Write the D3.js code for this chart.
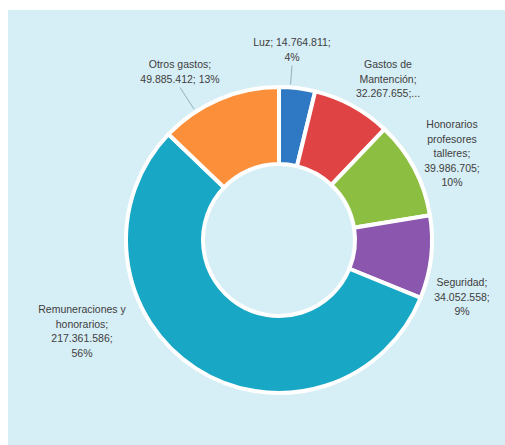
<!DOCTYPE html>
<html>
<head>
<meta charset="utf-8">
<script src="https://cdn.jsdelivr.net/npm/d3@7"></script>
<style>
  html, body { margin: 0; padding: 0; background: #ffffff; }
  svg { display: block; }
</style>
</head>
<body>
<svg id="chart" width="505" height="445"></svg>
<script>
// ---- data ----
const categories = [
  "Luz",
  "Gastos de Mantención",
  "Honorarios profesores talleres",
  "Seguridad",
  "Remuneraciones y honorarios",
  "Otros gastos"
];
const values = [14764811, 32267655, 39986705, 34052558, 217361586, 49885412];
const percents = ["4%", "8%", "10%", "9%", "56%", "13%"];
const labelLines = [
  ["Luz; 14.764.811;", "4%"],
  ["Gastos de", "Mantención;", "32.267.655;..."],
  ["Honorarios", "profesores", "talleres;", "39.986.705;", "10%"],
  ["Seguridad;", "34.052.558;", "9%"],
  ["Remuneraciones y", "honorarios;", "217.361.586;", "56%"],
  ["Otros gastos;", "49.885.412; 13%"]
];
const colors = ["#2f79c4", "#e04343", "#8cbf41", "#8b57ae", "#18a7c5", "#fc8f3a"];

// ---- layout ----
const W = 505, H = 445;
const cx = 279, cy = 240, rOuter = 153, rInner = 76;
const lineH = 14.5;
// label anchor (center x, first-line baseline y), leader flag
const labelLayout = [
  { x: 292, y: 46, leader: true },
  { x: 388, y: 68, leader: false },
  { x: 452, y: 128, leader: false },
  { x: 462, y: 286, leader: false },
  { x: 82,  y: 313, leader: false },
  { x: 180, y: 68, leader: true }
];

const svg = d3.select("#chart");
svg.append("rect").attr("x", 8).attr("y", 10).attr("width", W - 8).attr("height", H - 10)
   .attr("fill", "#d6eef5");

const pie = d3.pie().sort(null).value(d => d)(values);
const arc = d3.arc().innerRadius(rInner).outerRadius(rOuter);

const g = svg.append("g").attr("transform", `translate(${cx},${cy})`);
g.selectAll("path").data(pie).join("path")
  .attr("d", arc)
  .attr("fill", (d, i) => colors[i])
  .attr("stroke", "#ffffff")
  .attr("stroke-width", 4)
  .attr("stroke-linejoin", "miter");

// labels
const labels = svg.append("g")
  .attr("font-family", "'Liberation Sans', Arial, sans-serif")
  .attr("font-size", 10.5)
  .attr("fill", "#404040")
  .attr("text-anchor", "middle");

labelLines.forEach((lines, i) => {
  const L = labelLayout[i];
  const t = labels.append("text").attr("x", L.x).attr("y", L.y);
  lines.forEach((s, k) => {
    t.append("tspan").attr("x", L.x).attr("y", L.y + k * lineH).text(s);
  });
  if (L.leader) {
    const sx = L.x, sy = L.y + (lines.length - 1) * lineH + 5;
    const dx = cx - sx, dy = cy - sy, dist = Math.hypot(dx, dy);
    const len = dist - (rOuter + 3);
    svg.append("line")
      .attr("x1", sx).attr("y1", sy)
      .attr("x2", sx + dx / dist * len).attr("y2", sy + dy / dist * len)
      .attr("stroke", "#7f9fae").attr("stroke-width", 0.8);
  }
});
</script>
</body>
</html>
